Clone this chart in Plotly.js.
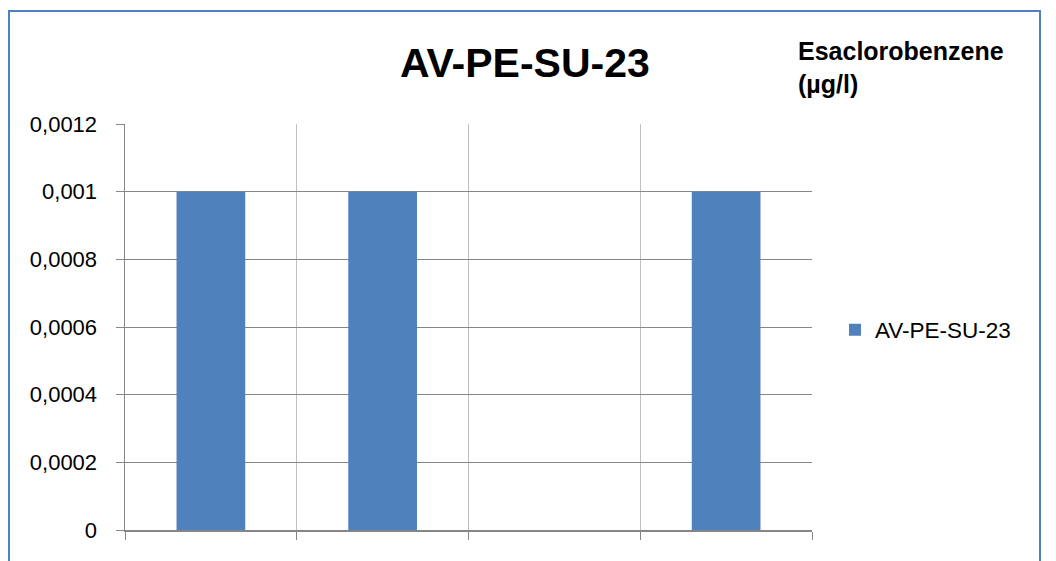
<!DOCTYPE html>
<html>
<head>
<meta charset="utf-8">
<script src="https://cdn.plot.ly/plotly-3.0.1.min.js"></script>
<style>
  html, body { margin: 0; padding: 0; background: #ffffff; }
  #chart { width: 1056px; height: 561px; }
</style>
</head>
<body>
<div id="chart"></div>
<script>
// Data
const categories = ["1", "2", "3", "4"];
const seriesName = "AV-PE-SU-23";
const seriesValues = [0.001, 0.001, null, 0.001];
const yTickValues = [0, 0.0002, 0.0004, 0.0006, 0.0008, 0.001, 0.0012];
const yTickLabels = ["0", "0,0002", "0,0004", "0,0006", "0,0008", "0,001", "0,0012"];
const chartTitle = "AV-PE-SU-23";
const yAxisTitle = "Esaclorobenzene<br>(µg/l)";

const FONT = "'Liberation Sans', Arial, sans-serif";

const trace = {
  type: "bar",
  name: seriesName,
  x: categories,
  y: seriesValues,
  marker: { color: "#4f81bd", line: { width: 0 } },
  showlegend: true
};

// Plot-area geometry (pixels) used only to place the outer frame
const L = 125, R = 244, T = 124, B = 31;
const pw = 1056 - L - R, ph = 561 - T - B;
const px = v => (v - L) / pw;
const py = v => (561 - B - v) / ph;

const layout = {
  width: 1056,
  height: 561,
  margin: { l: L, r: R, t: T, b: B, pad: 0 },
  paper_bgcolor: "#ffffff",
  plot_bgcolor: "#ffffff",
  font: { family: FONT, color: "#000000" },
  title: {
    text: "<b>" + chartTitle + "</b>",
    font: { family: FONT, size: 41, color: "#000000" },
    x: 0.497, xref: "container", xanchor: "center",
    y: 1 - 63 / 561, yref: "container", yanchor: "middle"
  },
  bargap: 0.6,
  xaxis: {
    type: "category",
    range: [-0.5, 3.5],
    tickson: "boundaries",
    showticklabels: false,
    ticks: "outside",
    ticklen: 8,
    tickcolor: "#868686",
    tickwidth: 1,
    showgrid: true,
    gridcolor: "#bfbfbf",
    gridwidth: 1,
    showline: true,
    linecolor: "#868686",
    linewidth: 1.5,
    zeroline: false,
    fixedrange: true
  },
  yaxis: {
    range: [0, 0.0012],
    tickmode: "array",
    tickvals: yTickValues,
    ticktext: yTickLabels,
    ticks: "outside",
    ticklen: 8,
    tickcolor: "#868686",
    tickwidth: 1,
    ticklabelstandoff: 14,
    tickfont: { family: FONT, size: 22, color: "#000000" },
    showgrid: true,
    gridcolor: "#868686",
    gridwidth: 1,
    showline: true,
    linecolor: "#868686",
    linewidth: 1.5,
    zeroline: false,
    fixedrange: true
  },
  legend: {
    xref: "container", yref: "container",
    x: 835 / 1056, y: 1 - 330 / 561,
    xanchor: "left", yanchor: "middle",
    font: { family: FONT, size: 22.5, color: "#000000" },
    bgcolor: "rgba(0,0,0,0)"
  },
  annotations: [{
    text: "<b>" + yAxisTitle + "</b>",
    xref: "paper", yref: "paper",
    x: px(796), y: py(35),
    xanchor: "left", yanchor: "top",
    align: "left",
    showarrow: false,
    font: { family: FONT, size: 25, color: "#000000" }
  }],
  shapes: [{
    type: "rect",
    xref: "paper", yref: "paper",
    x0: px(9), x1: px(1040),
    y0: py(600), y1: py(11),
    line: { color: "#4f81bd", width: 2 },
    fillcolor: "rgba(0,0,0,0)",
    layer: "below"
  }]
};

Plotly.newPlot("chart", [trace], layout, { displayModeBar: false, staticPlot: true });
</script>
</body>
</html>
